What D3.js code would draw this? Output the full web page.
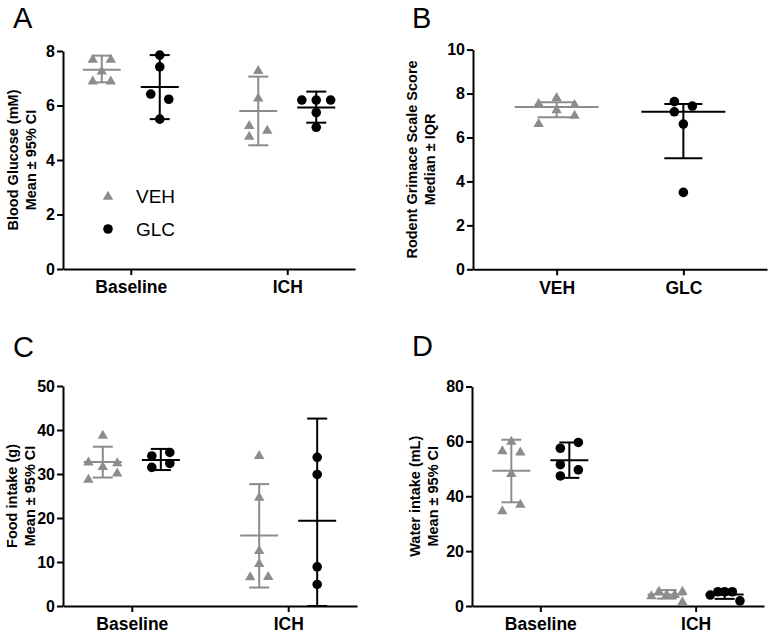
<!DOCTYPE html>
<html><head><meta charset="utf-8">
<script src="https://cdn.jsdelivr.net/npm/d3@7"></script>
<style>
body{margin:0;background:#fff}
svg{display:block}
text{font-family:"Liberation Sans",Arial,Helvetica,sans-serif}
</style>
</head><body>
<svg id="chart" width="769" height="633"></svg>
<script>
// ---------- DATA ----------
const timeCats = ["Baseline", "ICH"];
const groupCats = ["VEH", "GLC"];

// Panel A: Blood glucose (mM), mean ± 95% CI
const glucoseVEH = [[7.71, 7.71, 7.28, 6.91, 6.91], [7.30, 6.29, 5.28, 5.10, 4.88]];
const glucoseGLC = [[7.85, 7.42, 6.42, 6.23, 5.50], [6.20, 6.20, 6.20, 5.74, 5.20]];
const glucoseVEHCols = [[-1, 1, 0, -1, 1], [0, 0, -1, 1, -1]];
const glucoseGLCCols = [[0, 0, -1, 1, 0], [-1.6, 0, 1.6, 0, 0]];
const glucoseVEHMean = [7.31, 5.80];
const glucoseGLCMean = [6.68, 5.93];
const glucoseVEHCI = [[6.85, 7.83], [4.54, 7.06]];
const glucoseGLCCI = [[5.50, 7.85], [5.37, 6.51]];

// Panel B: Rodent Grimace Scale score, median ± IQR
const rgsVEH = [7.56, 7.83, 7.52, 7.28, 7.02, 6.65];
const rgsVEHCols = [-2, 0, 2, 0, 2, -2];
const rgsGLC = [7.63, 7.43, 7.17, 6.61, 3.50];
const rgsGLCCols = [-1, 1, -1, 0, 0];
const rgsMedian = [7.39, 7.17];
const rgsIQR = [[6.92, 7.60], [5.05, 7.52]];

// Panel C: Food intake (g), mean ± 95% CI
const foodVEH = [[38.9, 32.8, 32.6, 31.8, 30.3, 28.9], [34.3, 24.8, 12.7, 9.7, 6.7, 6.8]];
const foodGLC = [[34.1, 34.9, 32.4, 31.5], [33.8, 29.9, 8.9, 4.9]];
const foodVEHCols = [[0, -1.6, 1.6, 0, 1.6, -1.6], [0, 0, 0, 0, -1, 1]];
const foodGLCCols = [[-1, 1, 1, -1], [0, 0, 0, 0]];
const foodVEHMean = [32.7, 16.0];
const foodGLCMean = [33.2, 19.4];
const foodVEHCI = [[29.2, 36.2], [4.2, 27.7]];
const foodGLCCI = [[30.9, 35.7], [-3.8, 42.6]];

// Panel D: Water intake (mL), mean ± 95% CI
const waterVEH = [[60.2, 56.7, 56.2, 48.4, 37.2, 34.8], [3.8, 5.5, 4.3, 4.3, 5.5, 1.7]];
const waterGLC = [[59.6, 57.5, 51.5, 49.6, 47.4], [4.0, 5.2, 5.2, 5.2, 1.9]];
const waterVEHCols = [[0, -1, 1, 0, 1, -1], [-1.7, -0.85, 0, 0.9, 1.75, 1.75]];
const waterGLCCols = [[1, -1, -1, 1, -1], [-1.6, -0.75, 0, 0.85, 1.7]];
const waterVEHMean = [49.3, 4.2];
const waterGLCMean = [53.1, 4.2];
const waterVEHCI = [[37.8, 60.6], [2.7, 5.8]];
const waterGLCCI = [[46.7, 59.6], [2.6, 5.9]];

// ---------- DRAWING ----------
const GREY = "#8c8c8c", BLACK = "#000";
const svg = d3.select("#chart");

function timeGroups(veh, vehCols, vehMean, vehCI, glc, glcCols, glcMean, glcCI) {
  const out = [];
  timeCats.forEach((c, i) => {
    out.push({cat: c, series: "VEH", vals: veh[i], cols: vehCols[i], center: vehMean[i], ci: vehCI[i]});
    out.push({cat: c, series: "GLC", vals: glc[i], cols: glcCols[i], center: glcMean[i], ci: glcCI[i]});
  });
  return out;
}

const panels = [
  {letter: "A", lx: 13, ly: 28, left: 63, right: 355, top: 51, bottom: 269, ymax: 8, step: 2,
   cats: timeCats, pad: 0.433, dodge: 29, meanHalf: 19, capHalf: 10,
   title: ["Blood Glucose (mM)", "Mean \u00B1 95% CI"], tx: [13, 31],
   groups: timeGroups(glucoseVEH, glucoseVEHCols, glucoseVEHMean, glucoseVEHCI,
                      glucoseGLC, glucoseGLCCols, glucoseGLCMean, glucoseGLCCI), legend: true},
  {letter: "B", lx: 412, ly: 28, left: 473, right: 767, top: 49.6, bottom: 269.3, ymax: 10, step: 2,
   cats: groupCats, pad: 0.66, dodge: 0, meanHalf: 42, capHalf: 19,
   title: ["Rodent Grimace Scale Score", "Median \u00B1 IQR"], tx: [412, 430],
   groups: [
     {cat: "VEH", series: "VEH", vals: rgsVEH, cols: rgsVEHCols, center: rgsMedian[0], ci: rgsIQR[0]},
     {cat: "GLC", series: "GLC", vals: rgsGLC, cols: rgsGLCCols, center: rgsMedian[1], ci: rgsIQR[1]}
   ]},
  {letter: "C", lx: 13, ly: 357, left: 63, right: 357, top: 386, bottom: 606, ymax: 50, step: 10,
   cats: timeCats, pad: 0.44, dodge: 29, meanHalf: 19, capHalf: 10,
   title: ["Food intake (g)", "Mean \u00B1 95% CI"], tx: [12, 30],
   groups: timeGroups(foodVEH, foodVEHCols, foodVEHMean, foodVEHCI,
                      foodGLC, foodGLCCols, foodGLCMean, foodGLCCI)},
  {letter: "D", lx: 412, ly: 356, left: 472, right: 764, top: 386.5, bottom: 606, ymax: 80, step: 20,
   cats: timeCats, pad: 0.44, dodge: 29, meanHalf: 19, capHalf: 10,
   title: ["Water intake (mL)", "Mean \u00B1 95% CI"], tx: [415, 433],
   groups: timeGroups(waterVEH, waterVEHCols, waterVEHMean, waterVEHCI,
                      waterGLC, waterGLCCols, waterGLCMean, waterGLCCI)}
];

const COL = 9; // px per swarm column unit
const triPath = (x, y) => `M${x},${y - 5.2}L${x - 5.2},${y + 3.8}L${x + 5.2},${y + 3.8}Z`;

panels.forEach(p => {
  const g = svg.append("g");
  const x = d3.scalePoint().domain(p.cats).range([p.left, p.right]).padding(p.pad);
  const y = d3.scaleLinear().domain([0, p.ymax]).range([p.bottom, p.top]);
  const cy = v => y(Math.max(0, Math.min(p.ymax, v)));

  // panel letter
  g.append("text").attr("x", p.lx).attr("y", p.ly).attr("font-size", 29).text(p.letter);

  // y axis title
  const midY = (p.top + p.bottom) / 2;
  p.title.forEach((t, i) => {
    g.append("text")
      .attr("transform", `translate(${p.tx[i]},${midY}) rotate(-90)`)
      .attr("text-anchor", "middle").attr("dominant-baseline", "central")
      .attr("font-size", 14.5).attr("font-weight", "bold").text(t);
  });

  // axes
  const yAxis = d3.axisLeft(y).tickValues(d3.range(0, p.ymax + 0.001, p.step))
    .tickFormat(d3.format("d")).tickSize(6).tickSizeOuter(0).tickPadding(2);
  const ya = g.append("g").attr("transform", `translate(${p.left},0)`).call(yAxis);
  const xAxis = d3.axisBottom(x).tickSize(6).tickSizeOuter(0).tickPadding(6);
  const xa = g.append("g").attr("transform", `translate(0,${p.bottom})`).call(xAxis);
  [ya, xa].forEach(a => {
    a.select(".domain").attr("stroke", BLACK).attr("stroke-width", 2);
    a.selectAll(".tick line").attr("stroke", BLACK).attr("stroke-width", 2);
    a.selectAll("text").attr("fill", BLACK).attr("font-weight", "bold")
      .attr("font-family", '"Liberation Sans",Arial,Helvetica,sans-serif');
  });
  ya.selectAll("text").attr("font-size", 16);
  xa.selectAll("text").attr("font-size", 17.5);

  // groups
  p.groups.forEach(gr => {
    const color = gr.series === "VEH" ? GREY : BLACK;
    const cx = x(gr.cat) + (gr.series === "VEH" ? -p.dodge : p.dodge);
    const eb = g.append("g").attr("stroke", color).attr("stroke-width", 2).attr("fill", "none");
    eb.append("line").attr("x1", cx).attr("x2", cx).attr("y1", cy(gr.ci[0])).attr("y2", cy(gr.ci[1]));
    gr.ci.forEach(v => eb.append("line").attr("x1", cx - p.capHalf).attr("x2", cx + p.capHalf)
      .attr("y1", cy(v)).attr("y2", cy(v)));
    eb.append("line").attr("x1", cx - p.meanHalf).attr("x2", cx + p.meanHalf)
      .attr("y1", cy(gr.center)).attr("y2", cy(gr.center));

    const pts = g.append("g").attr("fill", color);
    gr.vals.forEach((v, i) => {
      const px = cx + gr.cols[i] * COL, py = cy(v);
      if (gr.series === "VEH") pts.append("path").attr("d", triPath(px, py));
      else pts.append("circle").attr("cx", px).attr("cy", py).attr("r", 4.8);
    });
  });

  // legend
  if (p.legend) {
    const items = [{s: "VEH", yy: 196}, {s: "GLC", yy: 229}];
    items.forEach(it => {
      if (it.s === "VEH") g.append("path").attr("d", triPath(108, it.yy)).attr("fill", GREY);
      else g.append("circle").attr("cx", 108).attr("cy", it.yy).attr("r", 4.8).attr("fill", BLACK);
      g.append("text").attr("x", 136).attr("y", it.yy).attr("dominant-baseline", "central")
        .attr("font-size", 19).text(it.s);
    });
  }
});
</script>
</body></html>
